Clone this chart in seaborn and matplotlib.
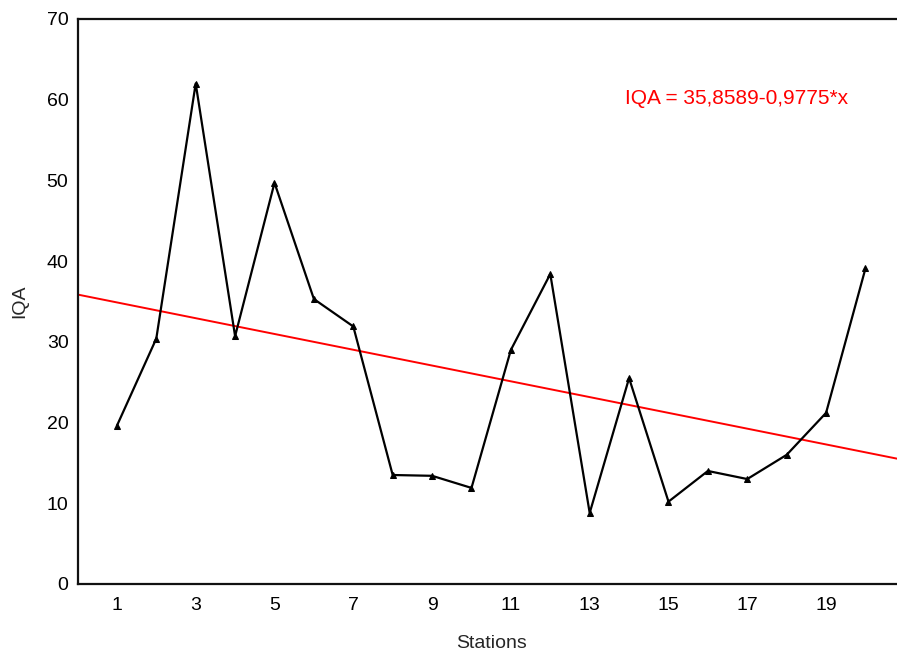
import numpy as np
import pandas as pd
import matplotlib
matplotlib.use("Agg")
import matplotlib.pyplot as plt
import seaborn as sns

stations = list(range(1, 21))
iqa = [19.6, 30.4, 62.0, 30.7, 49.7, 35.3, 31.9, 13.5, 13.4, 11.9,
       29.0, 38.4, 8.8, 25.5, 10.2, 14.0, 13.0, 16.0, 21.2, 39.1]
intercept = 35.8589
slope = -0.9775
equation = "IQA = 35,8589-0,9775*x"
xticks = list(range(1, 21))
xticklabels = [str(t) if t % 2 == 1 else "" for t in xticks]
yticks = list(range(0, 71, 10))

sns.set_style("white")
plt.rcParams['font.family'] = ['Liberation Sans', 'DejaVu Sans']

df = pd.DataFrame({"Stations": stations, "IQA": iqa})

fig = plt.figure(figsize=(8.97, 6.53), dpi=100)
ax = fig.add_axes([0.0864, 0.1057, 0.9136, 0.8653])

xlim = (0, 20.8)
xr = np.array(xlim)
ax.plot(xr, intercept + slope * xr, color="red", lw=1.4, zorder=2)

sns.lineplot(data=df, x="Stations", y="IQA", ax=ax, color="black", lw=1.6,
             marker="^", markersize=5, markeredgecolor="black", zorder=3)

ax.set_xlim(*xlim)
ax.set_ylim(0, 70)
ax.set_xticks(xticks)
ax.set_xticklabels(xticklabels)
ax.set_yticks(yticks)
ax.tick_params(axis="both", direction="in", length=5, width=1.3, labelsize=14,
               colors="black")
ax.tick_params(axis="x", pad=9.5)
ax.tick_params(axis="y", pad=6.5)
for s in ["left", "bottom", "top"]:
    ax.spines[s].set_linewidth(1.6)
    ax.spines[s].set_color("#111111")
ax.spines["right"].set_visible(False)

ax.set_xlabel("Stations", fontsize=14, va="center")
ax.set_ylabel("IQA", fontsize=14, va="center")
ax.xaxis.set_label_coords(0.5046, -0.106)
ax.yaxis.set_label_coords(-0.070, 0.5)

ax.text(0.668, 0.860, equation, transform=ax.transAxes, color="red",
        fontsize=15, va="center", ha="left")

fig.savefig("out.png", dpi=100)
